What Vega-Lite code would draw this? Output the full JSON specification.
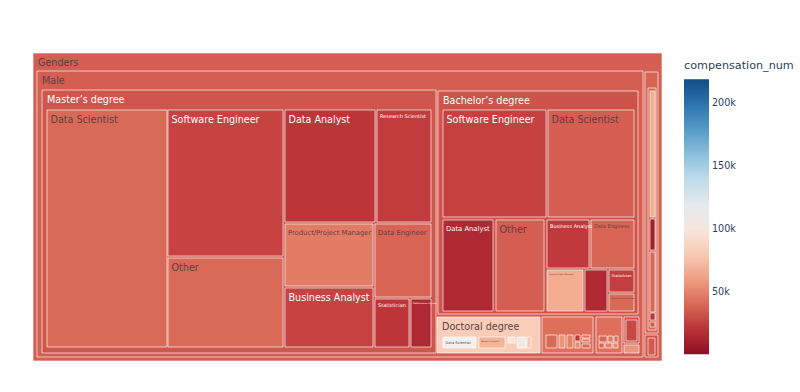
{
  "$schema": "https://vega.github.io/schema/vega-lite/v6.json",
  "width": 629,
  "height": 308,
  "autosize": {"type": "none"},
  "padding": {"left": 33, "top": 53, "right": 138, "bottom": 31},
  "background": "#ffffff",
  "config": {"view": {"stroke": null}, "font": "DejaVu Sans"},
  "data": {"values": [
    {"id":"g","label":"Genders","x0":33,"x1":662,"y0":53,"y1":361,"comp":37000},
    {"id":"m","label":"Male","x0":37,"x1":643,"y0":71,"y1":357,"comp":37000},
    {"id":"m_ma","label":"Master’s degree","x0":42,"x1":436,"y0":90,"y1":353,"comp":34000},
    {"id":"m_ma_ds","label":"Data Scientist","x0":47,"x1":167,"y0":110,"y1":347,"comp":41000},
    {"id":"m_ma_se","label":"Software Engineer","x0":168,"x1":283,"y0":110,"y1":256,"comp":27500},
    {"id":"m_ma_ot","label":"Other","x0":168,"x1":283,"y0":258,"y1":347,"comp":41000},
    {"id":"m_ma_da","label":"Data Analyst","x0":285,"x1":375,"y0":110,"y1":222,"comp":22000},
    {"id":"m_ma_rs","label":"Research Scientist","x0":377,"x1":431,"y0":110,"y1":222,"comp":25000},
    {"id":"m_ma_pm","label":"Product/Project Manager","x0":285,"x1":373,"y0":224,"y1":286,"comp":47500},
    {"id":"m_ma_de","label":"Data Engineer","x0":375,"x1":431,"y0":224,"y1":297,"comp":39000},
    {"id":"m_ma_ba","label":"Business Analyst","x0":285,"x1":373,"y0":288,"y1":347,"comp":27500},
    {"id":"m_ma_st","label":"Statistician","x0":375,"x1":409,"y0":299,"y1":347,"comp":22000},
    {"id":"m_ma_db","label":"DBA/Database Engineer","x0":411,"x1":431,"y0":299,"y1":347,"comp":16000},
    {"id":"m_ba","label":"Bachelor’s degree","x0":438,"x1":638,"y0":91,"y1":314,"comp":33000},
    {"id":"m_ba_se","label":"Software Engineer","x0":443,"x1":546,"y0":110,"y1":217,"comp":26500},
    {"id":"m_ba_ds","label":"Data Scientist","x0":548,"x1":634,"y0":110,"y1":217,"comp":37000},
    {"id":"m_ba_da","label":"Data Analyst","x0":443,"x1":493,"y0":220,"y1":311,"comp":16000},
    {"id":"m_ba_ot","label":"Other","x0":496,"x1":544,"y0":220,"y1":311,"comp":37000},
    {"id":"m_ba_ba","label":"Business Analyst","x0":547,"x1":589,"y0":220,"y1":268,"comp":24000},
    {"id":"m_ba_de","label":"Data Engineer","x0":591,"x1":634,"y0":220,"y1":268,"comp":39000},
    {"id":"m_ba_pm","label":"Product/Project Manager","x0":547,"x1":583,"y0":270,"y1":311,"comp":66000},
    {"id":"m_ba_rs","label":"Research Scientist","x0":585,"x1":607,"y0":270,"y1":311,"comp":16000},
    {"id":"m_ba_st","label":"Statistician","x0":609,"x1":634,"y0":270,"y1":292,"comp":25500},
    {"id":"m_ba_db","label":"DBA/Database Engineer","x0":609,"x1":634,"y0":294,"y1":311,"comp":41000},
    {"id":"m_phd","label":"Doctoral degree","x0":437,"x1":540,"y0":317,"y1":353,"comp":82000},
    {"id":"m_phd_ds","label":"Data Scientist","x0":443,"x1":476,"y0":337,"y1":348,"comp":110000},
    {"id":"m_phd_rs","label":"Research Scientist","x0":479,"x1":505,"y0":337,"y1":348,"comp":69000},
    {"id":"m_phd_ot","label":"Other","x0":508,"x1":515,"y0":337,"y1":343,"comp":98000},
    {"id":"m_phd_se","label":"Software Engineer","x0":517,"x1":526,"y0":337,"y1":348,"comp":104000},
    {"id":"m_phd_st","label":"Statistician","x0":527,"x1":531,"y0":337,"y1":348,"comp":80000},
    {"id":"m_sc","label":"Some college/university study without earning a bachelor’s degree","x0":542,"x1":593,"y0":317,"y1":353,"comp":43000},
    {"id":"m_sc_1","label":"Software Engineer","x0":546,"x1":557,"y0":335,"y1":348,"comp":41000},
    {"id":"m_sc_2","label":"Data Scientist","x0":559,"x1":565,"y0":335,"y1":348,"comp":57000},
    {"id":"m_sc_3","label":"Other","x0":567,"x1":573,"y0":335,"y1":348,"comp":49500},
    {"id":"m_sc_4","label":"Data Analyst","x0":575,"x1":580,"y0":335,"y1":341,"comp":22000},
    {"id":"m_sc_5","label":"Data Engineer","x0":575,"x1":580,"y0":342,"y1":348,"comp":53000},
    {"id":"m_sc_6","label":"Business Analyst","x0":582,"x1":590,"y0":335,"y1":338,"comp":44000},
    {"id":"m_sc_7","label":"Product/Project Manager","x0":582,"x1":590,"y0":339,"y1":342,"comp":48500},
    {"id":"m_sc_8","label":"Research Scientist","x0":582,"x1":590,"y0":344,"y1":348,"comp":39500},
    {"id":"m_pr","label":"Professional degree","x0":596,"x1":622,"y0":317,"y1":353,"comp":43000},
    {"id":"m_pr_1","label":"Data Scientist","x0":599,"x1":607,"y0":336,"y1":342,"comp":40500},
    {"id":"m_pr_2","label":"Software Engineer","x0":608,"x1":613,"y0":336,"y1":342,"comp":46000},
    {"id":"m_pr_3","label":"Other","x0":614,"x1":618,"y0":336,"y1":342,"comp":42000},
    {"id":"m_pr_4","label":"Data Analyst","x0":599,"x1":604,"y0":343,"y1":348,"comp":38500},
    {"id":"m_pr_5","label":"Business Analyst","x0":605,"x1":612,"y0":343,"y1":348,"comp":48500},
    {"id":"m_pr_6","label":"Research Scientist","x0":613,"x1":618,"y0":343,"y1":348,"comp":53000},
    {"id":"m_hs","label":"No formal education past high school","x0":624,"x1":639,"y0":317,"y1":343,"comp":31500},
    {"id":"m_hs_1","label":"Software Engineer","x0":626,"x1":637,"y0":320,"y1":341,"comp":29000},
    {"id":"m_na","label":"I prefer not to answer","x0":624,"x1":639,"y0":345,"y1":353,"comp":57000},
    {"id":"f","label":"Female","x0":645,"x1":658,"y0":72,"y1":333,"comp":39000},
    {"id":"f_ma","label":"Master’s degree","x0":648,"x1":656,"y0":88,"y1":330,"comp":40500},
    {"id":"f_ma_1","label":"Data Scientist","x0":650,"x1":655,"y0":91,"y1":217,"comp":66000},
    {"id":"f_ma_2","label":"Data Analyst","x0":650,"x1":655,"y0":219,"y1":250,"comp":10000},
    {"id":"f_ma_3","label":"Other","x0":650,"x1":655,"y0":252,"y1":312,"comp":40500},
    {"id":"f_ma_4","label":"Software Engineer","x0":650,"x1":655,"y0":313,"y1":320,"comp":22000},
    {"id":"f_ma_5","label":"Business Analyst","x0":650,"x1":655,"y0":322,"y1":327,"comp":35000},
    {"id":"o","label":"Prefer not to say","x0":645,"x1":658,"y0":335,"y1":357,"comp":33000},
    {"id":"o_1","label":"Master’s degree","x0":648,"x1":655,"y0":338,"y1":355,"comp":35000}
  ]},
  "encoding": {
    "x": {"field": "x0", "type": "quantitative", "scale": {"domain": [33, 662], "nice": false, "zero": false}, "axis": null},
    "y": {"field": "y0", "type": "quantitative", "scale": {"domain": [53, 361], "nice": false, "zero": false, "reverse": true}, "axis": null}
  },
  "layer": [
    {
      "mark": {"type": "rect", "stroke": "#ffffff", "strokeWidth": 1, "strokeOpacity": 0.65},
      "encoding": {
        "x2": {"field": "x1"},
        "y2": {"field": "y1"},
        "color": {
          "field": "comp", "type": "quantitative",
          "scale": {"scheme": "redblue", "domain": [1000, 219000]},
          "legend": {
            "title": "compensation_num", "orient": "none", "direction": "vertical",
            "legendX": 651, "legendY": 7, "padding": 0,
            "gradientLength": 275, "gradientThickness": 25, "gradientStrokeWidth": 0,
            "values": [50000, 100000, 150000, 200000], "format": "~s",
            "labelFontSize": 9.6, "labelColor": "#2a3f5f", "labelOffset": 3, "labelOverlap": false,
            "titleFontSize": 11.2, "titleFontWeight": "normal", "titleColor": "#2a3f5f", "titlePadding": 8
          }
        }
      }
    },
    {
      "transform": [{"filter": {"field": "id", "oneOf": ["g", "m", "m_ma", "m_ba", "m_phd"]}}],
      "mark": {"type": "text", "align": "left", "baseline": "alphabetic", "dx": 5, "dy": 12.5, "fontSize": 9.6},
      "encoding": {
        "text": {"field": "label"},
        "color": {"condition": {"test": "datum.comp < 36000", "value": "#ffffff"}, "value": "#5b3f44"}
      }
    },
    {
      "transform": [{"filter": {"field": "id", "oneOf": ["m_ma_ds", "m_ma_se", "m_ma_ot", "m_ma_da", "m_ma_ba", "m_ba_se", "m_ba_ds", "m_ba_ot"]}}],
      "mark": {"type": "text", "align": "left", "baseline": "alphabetic", "dx": 3.5, "dy": 12.5, "fontSize": 9.6},
      "encoding": {
        "text": {"field": "label"},
        "color": {"condition": {"test": "datum.comp < 36000", "value": "#ffffff"}, "value": "#5b3f44"}
      }
    },
    {
      "transform": [{"filter": {"field": "id", "oneOf": ["m_ma_de", "m_ba_da", "m_ma_pm"]}}],
      "mark": {"type": "text", "align": "left", "baseline": "alphabetic", "dx": 3, "dy": 10.5, "fontSize": 6.8},
      "encoding": {
        "text": {"field": "label"},
        "color": {"condition": {"test": "datum.comp < 36000", "value": "#ffffff"}, "value": "#5b3f44"}
      }
    },
    {
      "transform": [{"filter": {"field": "id", "oneOf": ["m_ma_rs", "m_ma_st", "m_ba_de", "m_ba_ba"]}}],
      "mark": {"type": "text", "align": "left", "baseline": "alphabetic", "dx": 3, "dy": 7.8, "fontSize": 5},
      "encoding": {
        "text": {"field": "label"},
        "color": {"condition": {"test": "datum.comp < 36000", "value": "#ffffff"}, "value": "#5b3f44"}
      }
    },
    {
      "transform": [{"filter": {"field": "id", "oneOf": ["m_ba_st", "m_phd_ds"]}}],
      "mark": {"type": "text", "align": "left", "baseline": "alphabetic", "dx": 2.5, "dy": 6.5, "fontSize": 3.6},
      "encoding": {
        "text": {"field": "label"},
        "color": {"condition": {"test": "datum.comp < 36000", "value": "#ffffff"}, "value": "#3d4a66"}
      }
    },
    {
      "transform": [{"filter": {"field": "id", "oneOf": ["m_ba_pm", "m_phd_rs", "m_ba_db", "m_ma_db"]}}],
      "mark": {"type": "text", "align": "left", "baseline": "alphabetic", "dx": 2, "dy": 4.5, "fontSize": 2},
      "encoding": {
        "text": {"field": "label"},
        "color": {"condition": {"test": "datum.comp < 36000", "value": "#ffffff"}, "value": "#5b3f44"}
      }
    }
  ]
}
